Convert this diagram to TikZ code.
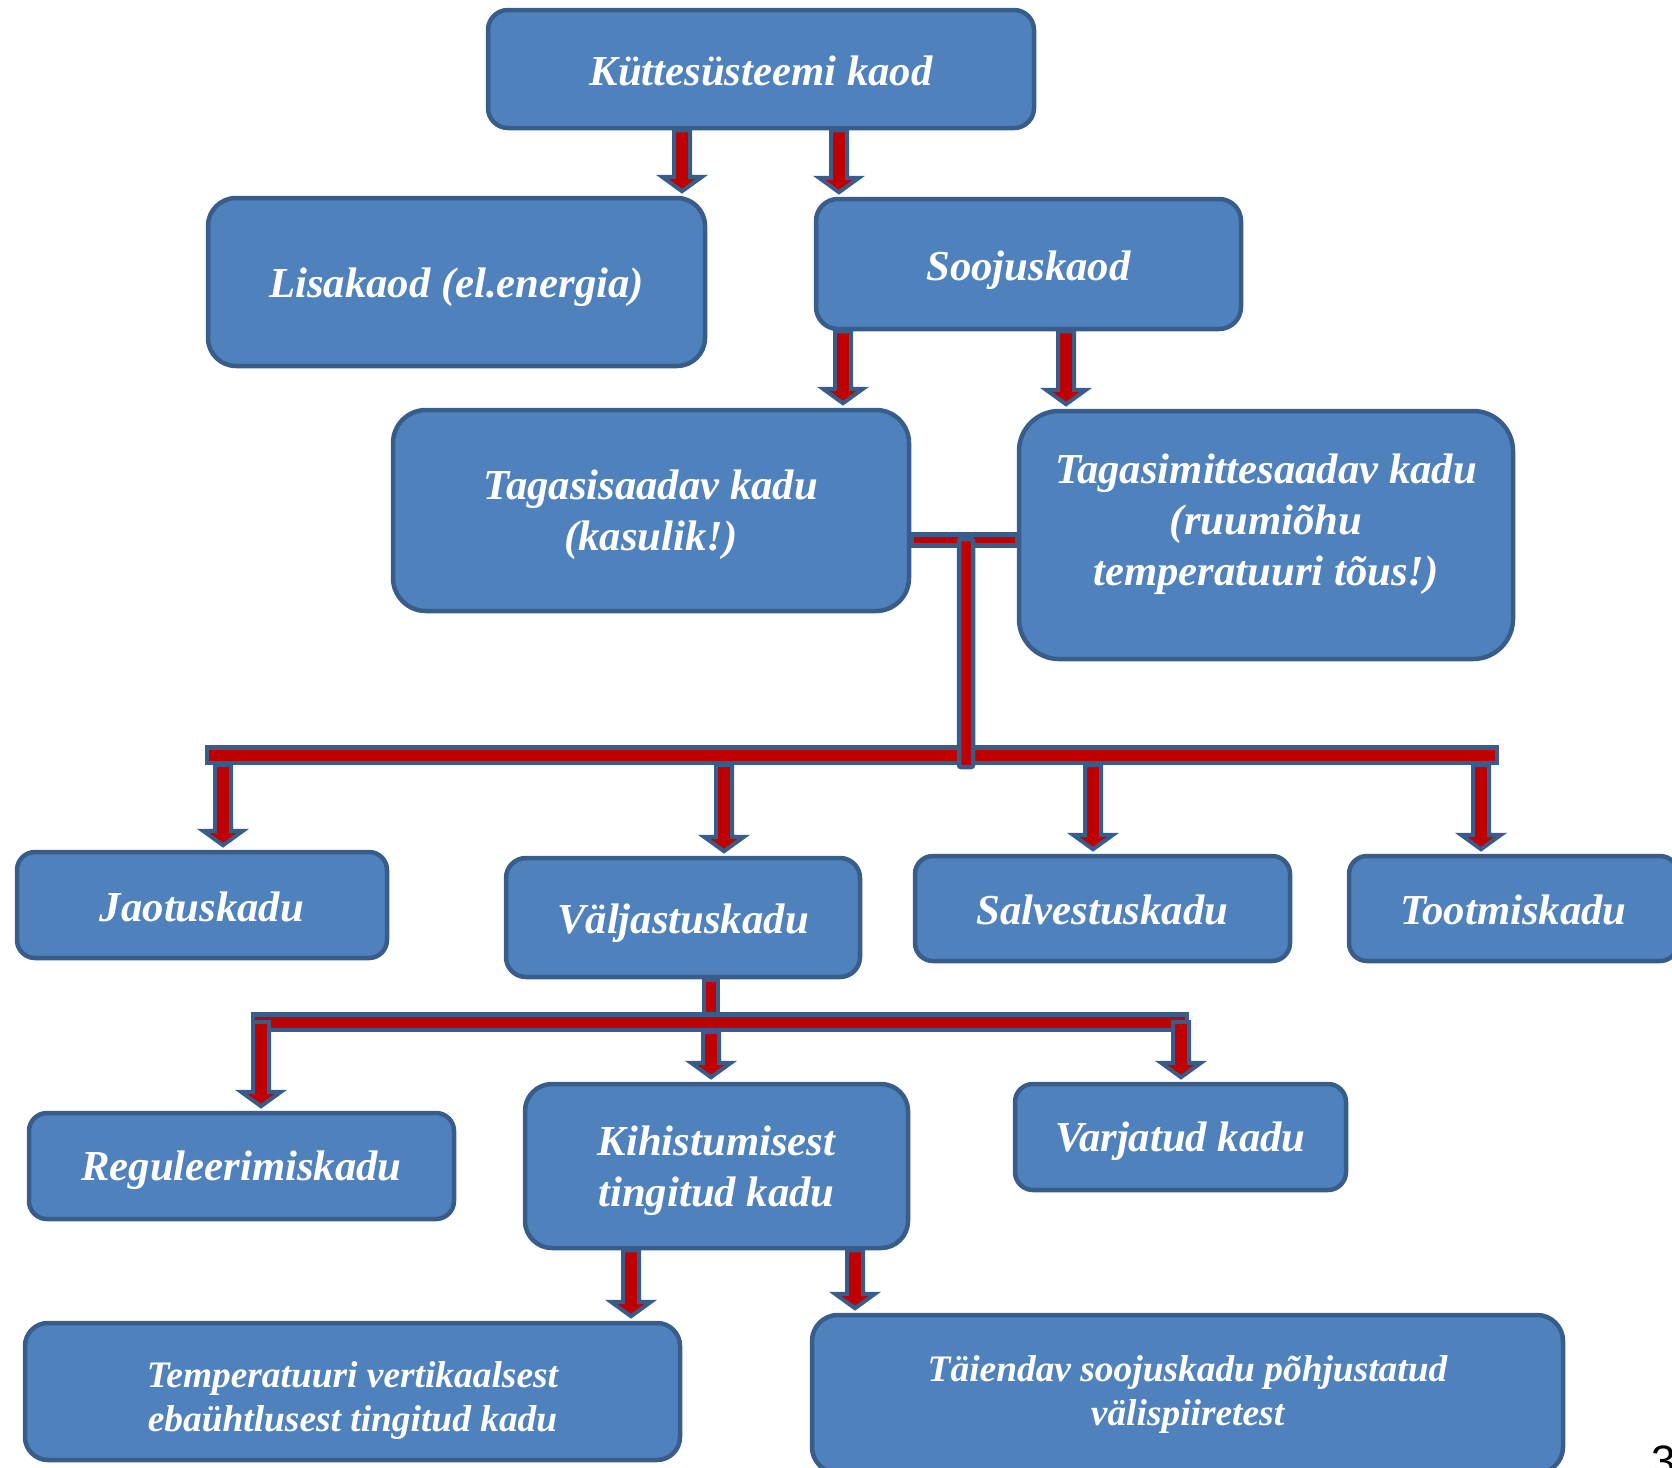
\documentclass[tikz,border=0pt]{standalone}
\usepackage{fontspec}
\setmainfont{Liberation Serif}
\newfontfamily\pgnum{Liberation Sans}
\usetikzlibrary{calc,backgrounds}
\definecolor{boxfill}{HTML}{4F81BD}
\definecolor{bord}{HTML}{385D8A}
\definecolor{arred}{HTML}{C00000}
\newcommand\barrow[3]{\path[arr] let \p1=($#2+(#1,0)$), \p2=#3 in
  (\x1-8pt,\y1) -- (\x1-8pt,\y2+19pt) -- (\x1-20pt,\y2+19pt) -- (\x1,\y2+4.5pt)
  -- (\x1+20pt,\y2+19pt) -- (\x1+8pt,\y2+19pt) -- (\x1+8pt,\y1) -- cycle;}
\newcommand\tx[2]{\raisebox{-#1}[\height][\depth]{\begin{tabular}{@{}c@{}}#2\end{tabular}}}
\begin{document}
\begin{tikzpicture}[x=1pt,y=-1pt,
  box/.style={draw=bord, fill=boxfill, line width=4.5pt, text=white,
    font=\bfseries\itshape\fontsize{42.7}{51}\selectfont, inner sep=0pt},
  smallbox/.style={box, font=\bfseries\itshape\fontsize{37.4}{44}\selectfont},
  bar/.style={fill=arred, draw=bord, line width=4.5pt},
  arr/.style={fill=arred, draw=bord, line width=4pt, line join=miter}]
\useasboundingbox (0,0) rectangle (1672,1467);
\clip (0,0) rectangle (1672,1467);

% boxes
\node[box, minimum width=546, minimum height=118, rounded corners=20] (top) at (761,69) {\tx{6.5pt}{Küttesüsteemi kaod}};
\node[box, minimum width=497, minimum height=168, rounded corners=28] (lisa) at (456.5,282) {\tx{5.5pt}{Lisakaod (el.energia)}};
\node[box, minimum width=425, minimum height=130, rounded corners=22] (sooj) at (1028.5,264) {\tx{5.8pt}{Soojuskaod}};
\node[box, minimum width=516, minimum height=201, rounded corners=33] (tagasi) at (651,510.5) {\tx{4pt}{Tagasisaadav kadu\\(kasulik!)}};
\node[box, minimum width=494, minimum height=248, rounded corners=40] (tagm) at (1266,535) {\tx{-11pt}{Tagasimittesaadav kadu\\(ruumiõhu\\temperatuuri tõus!)}};
\node[box, minimum width=370, minimum height=106, rounded corners=18] (jaotus) at (202,905) {\tx{5.8pt}{Jaotuskadu}};
\node[box, minimum width=354, minimum height=119, rounded corners=20] (valj) at (683,917.5) {\tx{5.6pt}{Väljastuskadu}};
\node[box, minimum width=375, minimum height=105, rounded corners=18] (salv) at (1102.5,908.5) {\tx{5.6pt}{Salvestuskadu}};
\node[box, minimum width=329, minimum height=105, rounded corners=18] (toot) at (1513.5,908.5) {\tx{5.6pt}{Tootmiskadu}};
\node[box, minimum width=425, minimum height=106, rounded corners=18] (regul) at (241.5,1166) {\tx{4pt}{Reguleerimiskadu}};
\node[box, minimum width=383, minimum height=164, rounded corners=27] (kihi) at (716.5,1166) {\tx{4.5pt}{Kihistumisest\\tingitud kadu}};
\node[box, minimum width=331, minimum height=106, rounded corners=18] (varj) at (1180.5,1137) {\tx{4.5pt}{Varjatud kadu}};
\node[smallbox, minimum width=655, minimum height=137, rounded corners=23] (temp) at (352.5,1391.5) {\tx{9pt}{Temperatuuri vertikaalsest\\ebaühtlusest tingitud kadu}};
\node[smallbox, minimum width=751, minimum height=158, rounded corners=26] (taien) at (1187.5,1394) {\tx{1pt}{Täiendav soojuskadu põhjustatud\\välispiiretest}};

% connector between the two middle boxes (behind them)
\begin{pgfonlayer}{background}
\path[bar] (tagasi.east |- 0,534.5) rectangle (tagm.west |- 0,545.5);
\end{pgfonlayer}

% distribution bus 1 and its trunk
\node[bar, minimum width=1290, minimum height=15.5, inner sep=0pt] (bus1) at (852,755) {};
\coordinate (tj) at (966,539);
\path[bar, rounded corners=2pt] ($(tj)+(-7,0)$) rectangle ($(tj |- bus1.south)+(7,2)$);

% stub from Väljastuskadu and bus 2
\node[bar, minimum width=934, minimum height=15.5, inner sep=0pt] (bus2) at (720,1022) {};
\begin{pgfonlayer}{background}
\path[bar] ($(valj.south)+(21,0)$) rectangle ($(valj.south -| bus2.center)+(-2,0)+(0,1022-977)$);
\end{pgfonlayer}

% arrows
\barrow{-79}{(top.south)}{(lisa.north)}
\barrow{78}{(top.south)}{(sooj.north)}
\barrow{-185.5}{(sooj.south)}{(tagasi.north)}
\barrow{37.5}{(sooj.south)}{(tagm.north)}
\barrow{223-852}{(bus1.south)}{(jaotus.north)}
\barrow{724-852}{(bus1.south)}{(valj.north)}
\barrow{1093-852}{(bus1.south)}{(salv.north)}
\barrow{1481-852}{(bus1.south)}{(toot.north)}
\barrow{261-720}{(bus2.center)}{(regul.north)}
\barrow{711-720}{(bus2.south)}{(kihi.north)}
\barrow{1181-720}{(bus2.center)}{(varj.north)}
\barrow{631-716.5}{(kihi.south)}{(temp.north)}
\barrow{855-716.5}{(kihi.south)}{(taien.north)}

% page number
\node[anchor=north west, inner sep=0pt, font=\pgnum\fontsize{44}{44}\selectfont] (pg) at (1651,1446) {3};
\end{tikzpicture}
\end{document}
